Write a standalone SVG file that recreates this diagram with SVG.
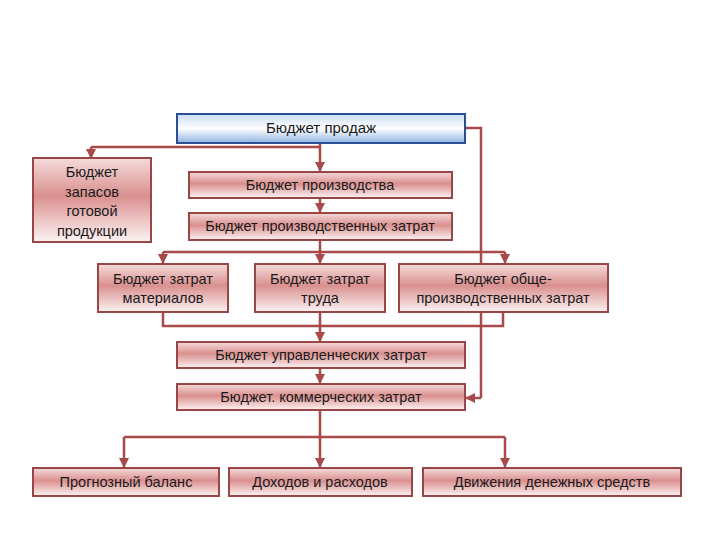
<svg xmlns="http://www.w3.org/2000/svg" width="720" height="540" viewBox="0 0 720 540">
<defs>
<linearGradient id="red" x1="0" y1="0" x2="0" y2="1">
<stop offset="0" stop-color="#f4dcdb"/>
<stop offset="0.45" stop-color="#d9908f"/>
<stop offset="1" stop-color="#fdf3f3"/>
</linearGradient>
<linearGradient id="blue" x1="0" y1="0" x2="0" y2="1">
<stop offset="0" stop-color="#c9dcf3"/>
<stop offset="0.5" stop-color="#ffffff"/>
<stop offset="1" stop-color="#8fb4e3"/>
</linearGradient>
<marker id="arr" viewBox="0 0 10 10" refX="9" refY="5" markerWidth="4" markerHeight="4" orient="auto" markerUnits="strokeWidth">
<path d="M0,0 L10,5 L0,10 z" fill="#a84a4a"/>
</marker>
<style>
.box{fill:url(#red);stroke:#9a4546;stroke-width:2}
.top{fill:url(#blue);stroke:#2a4f95;stroke-width:2}
.t{font-family:"Liberation Sans",Arial,sans-serif;font-size:14.5px;font-weight:400;fill:#1a1a1a;text-anchor:middle}
.c{fill:none;stroke:#a84a4a;stroke-width:2.5}
.a{fill:none;stroke:#a84a4a;stroke-width:2.5;marker-end:url(#arr)}
</style>
</defs>
<rect width="720" height="540" fill="#fff"/>
<g id="connectors">
<path class="c" d="M91,147 H320"/>
<path class="a" d="M91,147 V158"/>
<path class="a" d="M320,143 V171"/>
<path class="a" d="M320,198 V212"/>
<path class="c" d="M465,128 H481 V398"/>
<path class="a" d="M481,398 H466"/>
<path class="c" d="M320,240 V252"/>
<path class="c" d="M163,252 H505"/>
<path class="a" d="M163,252 V263"/>
<path class="a" d="M320,252 V263"/>
<path class="a" d="M505,252 V263"/>
<path class="c" d="M163,312 V326 H503 V312"/>
<path class="c" d="M320,312 V326"/>
<path class="a" d="M320,326 V341"/>
<path class="a" d="M320,368 V383"/>
<path class="c" d="M320,410 V437"/>
<path class="c" d="M124,437 H505"/>
<path class="a" d="M124,437 V467"/>
<path class="a" d="M320,437 V467"/>
<path class="a" d="M505,437 V467"/>
</g>
<g id="sales"><rect class="top" x="177" y="114" width="288" height="29"/><text class="t" x="321" y="133" style="font-size:15px">Бюджет продаж</text></g>
<g id="stock"><rect class="box" x="33" y="158" width="118" height="84"/>
<text class="t" x="92" y="177">Бюджет</text><text class="t" x="92" y="197">запасов</text><text class="t" x="92" y="216">готовой</text><text class="t" x="92" y="236">продукции</text></g>
<g id="production"><rect class="box" x="189" y="172" width="263" height="26"/><text class="t" x="320" y="190">Бюджет производства</text></g>
<g id="prodcosts"><rect class="box" x="189" y="213" width="263" height="27"/><text class="t" x="320" y="231">Бюджет производственных затрат</text></g>
<g id="materials"><rect class="box" x="98" y="264" width="130" height="48"/><text class="t" x="163" y="284">Бюджет затрат</text><text class="t" x="163" y="303">материалов</text></g>
<g id="labor"><rect class="box" x="255" y="264" width="130" height="48"/><text class="t" x="320" y="284">Бюджет затрат</text><text class="t" x="320" y="303">труда</text></g>
<g id="overhead"><rect class="box" x="399" y="264" width="209" height="48"/><text class="t" x="503" y="284">Бюджет обще-</text><text class="t" x="503" y="303">производственных затрат</text></g>
<g id="admin"><rect class="box" x="177" y="342" width="288" height="26"/><text class="t" x="321" y="360">Бюджет управленческих затрат</text></g>
<g id="commercial"><rect class="box" x="177" y="384" width="288" height="26"/><text class="t" x="321" y="402">Бюджет. коммерческих затрат</text></g>
<g id="balance"><rect class="box" x="33" y="468" width="186" height="28"/><text class="t" x="126" y="487">Прогнозный баланс</text></g>
<g id="income"><rect class="box" x="229" y="468" width="183" height="28"/><text class="t" x="320" y="487">Доходов и расходов</text></g>
<g id="cash"><rect class="box" x="423" y="468" width="258" height="28"/><text class="t" x="552" y="487">Движения денежных средств</text></g>
</svg>
